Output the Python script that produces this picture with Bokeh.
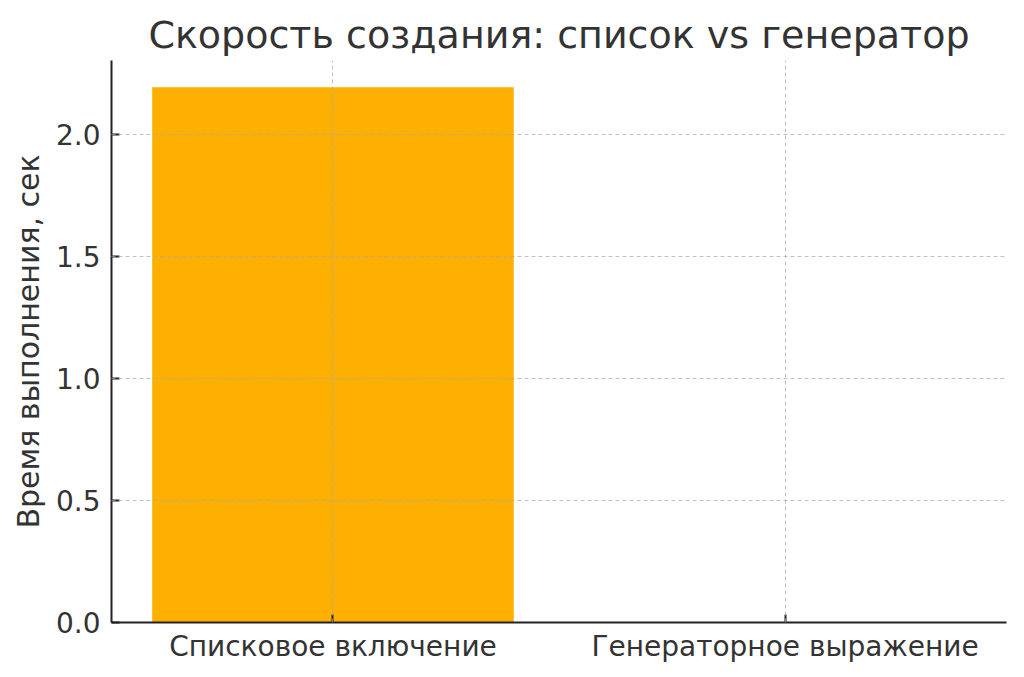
from bokeh.plotting import figure
from bokeh.models import Range1d, FixedTicker, SingleIntervalTicker, NumeralTickFormatter
from bokeh.embed import file_html
from bokeh.resources import INLINE

categories = ["Списковое включение", "Генераторное выражение"]
times = [2.193, 0.00001]
title_text = "Скорость создания: список vs генератор"
y_label = "Время выполнения, сек"

xs = list(range(len(categories)))
ymax = max(times) * 1.05

p = figure(width=1016, height=669, output_backend="svg", toolbar_location=None,
           x_range=Range1d(-0.49, len(categories) - 1 + 0.49),
           y_range=Range1d(0, ymax),
           min_border_left=111, min_border_right=10, min_border_top=60, min_border_bottom=47)

p.vbar(x=xs, top=times, width=0.8, color="#FDB000", line_color=None)

FONT = "DejaVu Sans"
TXT = "#333333"
p.title.text = title_text
p.title.text_font = FONT
p.title.text_font_size = "38px"
p.title.text_font_style = "normal"
p.title.text_color = TXT
p.title.align = "center"
p.title.offset = 0
p.title.standoff = 8

p.xaxis.ticker = FixedTicker(ticks=xs)
p.xaxis.major_label_overrides = {i: c for i, c in enumerate(categories)}
p.yaxis.ticker = SingleIntervalTicker(interval=0.5)
p.yaxis.formatter = NumeralTickFormatter(format="0.0")
p.yaxis.axis_label = y_label

for ax in (p.xaxis, p.yaxis):
    ax.major_label_text_font = FONT
    ax.major_label_text_font_size = "28px"
    ax.major_label_text_color = TXT
    ax.axis_label_text_font = FONT
    ax.axis_label_text_font_size = "30px"
    ax.axis_label_text_font_style = "normal"
    ax.axis_label_text_color = TXT
    ax.axis_line_width = 2
    ax.axis_line_color = "#222222"
    ax.major_tick_line_color = "#222222"
    ax.major_tick_line_width = 2
    ax.major_tick_in = 8
    ax.major_tick_out = 0
    ax.minor_tick_line_color = None
p.xaxis.major_label_standoff = 7
p.yaxis.major_label_standoff = 7
p.yaxis.axis_label_standoff = 7

for g in (p.xgrid, p.ygrid):
    g.grid_line_color = "#a8a8a8"
    g.grid_line_alpha = 0.7
    g.grid_line_dash = "4 3"
    g.grid_line_width = 1
    g.level = "overlay"
p.xgrid.ticker = FixedTicker(ticks=xs)

p.outline_line_color = None

open("out.html", "w").write(file_html(p, INLINE))
